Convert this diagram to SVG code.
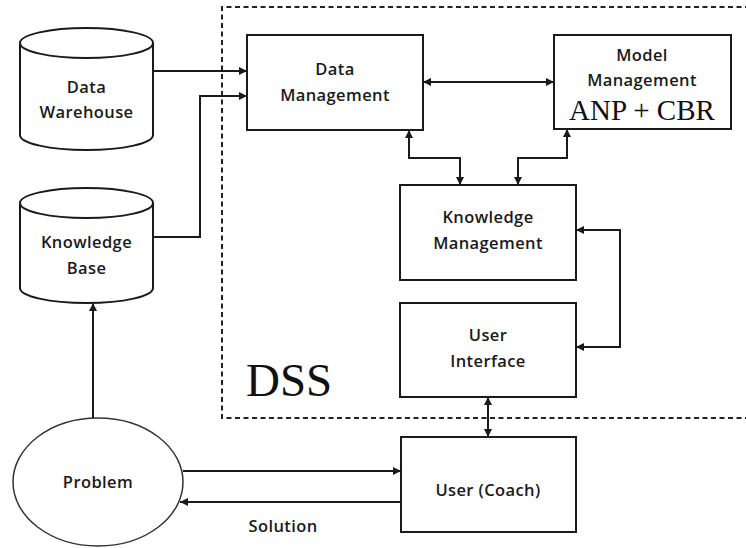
<svg xmlns="http://www.w3.org/2000/svg" width="746" height="548" viewBox="0 0 746 548">
<style>
.box{fill:#fff;stroke:#1a1a1a;stroke-width:2}
.cyl{fill:#fff;stroke:#1a1a1a;stroke-width:2}
.lbl{font-family:"Open Sans","DejaVu Sans",sans-serif;font-weight:600;font-size:16.5px;fill:#1a1a1a;text-anchor:middle;letter-spacing:0.4px}
.serif{font-family:"Liberation Serif","DejaVu Serif",serif;fill:#111}
.con{fill:none;stroke:#1a1a1a;stroke-width:2}
</style>
<defs>
<marker id="ah" viewBox="0 0 10 10" refX="10" refY="5" markerWidth="9" markerHeight="8" markerUnits="userSpaceOnUse" orient="auto-start-reverse">
<path d="M0,0 L10,5 L0,10 z" fill="#1a1a1a"/>
</marker>
</defs>
<rect width="746" height="548" fill="#fff"/>
<g id="dss-boundary">
<path d="M750,7 L222,7 L222,418 L750,418" fill="none" stroke="#222" stroke-width="2" stroke-dasharray="5,3.5"/>
<text class="serif" x="246" y="396" font-size="47">DSS</text>
</g>
<g id="data-warehouse">
<path class="cyl" d="M20,43 L20,135 A66.5,15 0 0 0 153,135 L153,43"/>
<ellipse class="cyl" cx="86.5" cy="43" rx="66.5" ry="15"/>
<text class="lbl" x="86.5" y="93">Data</text>
<text class="lbl" x="86.5" y="118">Warehouse</text>
</g>
<g id="knowledge-base">
<path class="cyl" d="M20,203 L20,288 A66.5,15 0 0 0 153,288 L153,203"/>
<ellipse class="cyl" cx="86.5" cy="203" rx="66.5" ry="15"/>
<text class="lbl" x="86.5" y="248">Knowledge</text>
<text class="lbl" x="86.5" y="274">Base</text>
</g>
<g id="data-management">
<rect class="box" x="247" y="35" width="176" height="95"/>
<text class="lbl" x="335" y="75">Data</text>
<text class="lbl" x="335" y="101">Management</text>
</g>
<g id="model-management">
<rect class="box" x="554" y="35" width="177" height="94"/>
<text class="lbl" x="642" y="61">Model</text>
<text class="lbl" x="642" y="86">Management</text>
<text class="serif" x="642" y="120" font-size="29" text-anchor="middle">ANP + CBR</text>
</g>
<g id="knowledge-management">
<rect class="box" x="400" y="185" width="176" height="95"/>
<text class="lbl" x="488" y="223">Knowledge</text>
<text class="lbl" x="488" y="249">Management</text>
</g>
<g id="user-interface">
<rect class="box" x="400" y="303" width="176" height="94"/>
<text class="lbl" x="488" y="341">User</text>
<text class="lbl" x="488" y="367">Interface</text>
</g>
<g id="user-coach">
<rect class="box" x="401" y="437" width="175" height="95"/>
<text class="lbl" x="488" y="496">User (Coach)</text>
</g>
<g id="problem">
<ellipse fill="#fff" stroke="#333" stroke-width="1.5" cx="98" cy="482" rx="85" ry="64"/>
<text class="lbl" x="98" y="488">Problem</text>
</g>
<g id="connectors">
<path class="con" d="M153,71 L247,71" marker-end="url(#ah)"/>
<path class="con" d="M153,237 L200,237 L200,96 L247,96" marker-end="url(#ah)"/>
<path class="con" d="M423,82 L554,82" marker-start="url(#ah)" marker-end="url(#ah)"/>
<path class="con" d="M409,130 L409,158 L460,158 L460,185" marker-start="url(#ah)" marker-end="url(#ah)"/>
<path class="con" d="M567,129 L567,158 L518,158 L518,185" marker-start="url(#ah)" marker-end="url(#ah)"/>
<path class="con" d="M576,230 L620,230 L620,347 L576,347" marker-start="url(#ah)" marker-end="url(#ah)"/>
<path class="con" d="M488,397 L488,437" marker-start="url(#ah)" marker-end="url(#ah)"/>
<path class="con" d="M93,418 L93,303" marker-end="url(#ah)"/>
<path class="con" d="M183,471 L401,471" marker-end="url(#ah)"/>
<path class="con" d="M401,502 L180,502" marker-end="url(#ah)"/>
<text class="lbl" x="283" y="532">Solution</text>
</g>
</svg>
